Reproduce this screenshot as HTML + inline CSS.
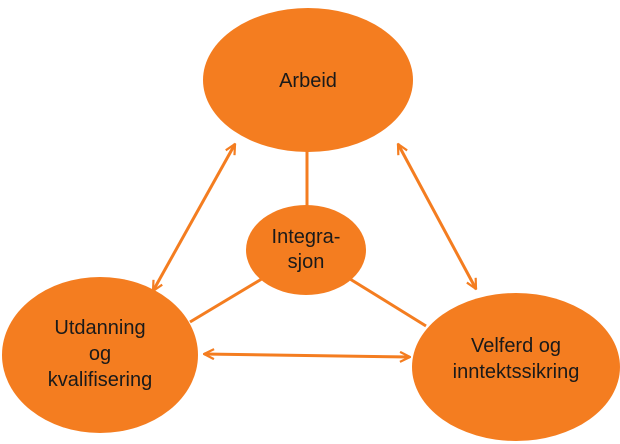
<!DOCTYPE html>
<html><head><meta charset="utf-8"><style>
html,body{margin:0;padding:0;background:#fff;}
svg{display:block;}
text{font-family:"Liberation Sans",sans-serif;font-size:20px;fill:#1a1a1a;text-anchor:middle;}
</style></head><body>
<svg width="620" height="444" viewBox="0 0 620 444">
<defs>
<marker id="a" viewBox="0 0 12 12" refX="11" refY="6" markerWidth="12" markerHeight="12" markerUnits="userSpaceOnUse" orient="auto-start-reverse">
<path d="M1,1 L11,6 L1,11" fill="none" stroke="#F47D20" stroke-width="2.2"/>
</marker>
</defs>
<g stroke="#F47D20" stroke-width="3" fill="none">
<line x1="307" y1="150" x2="307" y2="207"/>
<line x1="265" y1="277" x2="190" y2="322"/>
<line x1="350" y1="279" x2="426" y2="326"/>
<line x1="235" y1="144" x2="153" y2="291" marker-start="url(#a)" marker-end="url(#a)"/>
<line x1="398" y1="144" x2="476" y2="289" marker-start="url(#a)" marker-end="url(#a)"/>
<line x1="204" y1="354" x2="410" y2="357" marker-start="url(#a)" marker-end="url(#a)"/>
</g>
<g fill="#F47D20">
<ellipse cx="308" cy="80" rx="105" ry="72"/>
<ellipse cx="306" cy="250" rx="60" ry="45"/>
<ellipse cx="100" cy="355" rx="98" ry="78"/>
<ellipse cx="516" cy="367" rx="104" ry="74"/>
</g>
<text x="308" y="87">Arbeid</text>
<text x="306" y="243">Integra-</text>
<text x="306" y="268">sjon</text>
<text x="100" y="334">Utdanning</text>
<text x="100" y="360">og</text>
<text x="100" y="386">kvalifisering</text>
<text x="516" y="352">Velferd og</text>
<text x="516" y="378">inntektssikring</text>
</svg>
</body></html>
